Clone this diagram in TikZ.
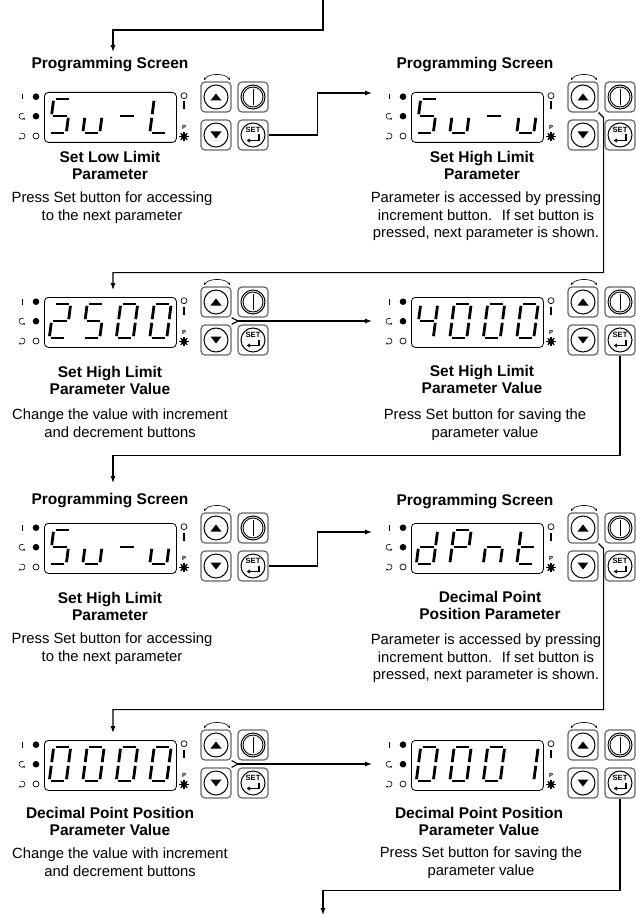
\documentclass[tikz,border=0pt]{standalone}
\usepackage{fontspec}
\setmainfont{Liberation Sans}
\usetikzlibrary{arrows.meta,positioning}
\tikzset{
  btn/.style={rectangle,draw=black!60,line width=1.2pt,rounded corners=4pt,minimum size=30pt,inner sep=0pt},
  disp/.style={rectangle,draw=black,line width=0.8pt,rounded corners=4pt,minimum width=132pt,minimum height=50pt,inner sep=0pt},
  seg/.style={line width=2.8pt},
  flow/.style={line width=1.1pt,-{Latex[length=7pt,width=5pt]}},
  panelhead/.style={font=\fontsize{15.5}{17.5}\selectfont\bfseries,align=center,anchor=north,inner sep=0pt},
  panelnote/.style={font=\fontsize{14.8}{17.3}\selectfont,align=center,anchor=north,inner sep=0pt},
}
% segments of one digit cell (17 x 34, y downwards)
\def\sga{(1.8,0)--(15.2,0)}
\def\sgb{(17,1.8)--(17,15.2)}
\def\sgc{(17,18.8)--(17,32.2)}
\def\sgd{(1.8,34)--(15.2,34)}
\def\sge{(0,18.8)--(0,32.2)}
\def\sgf{(0,1.8)--(0,15.2)}
\def\sgg{(1.8,17)--(15.2,17)}
\newcommand{\sevenseg}[3]{%
  \begin{scope}[shift={(#1,#2)},xslant=0.13]
    \foreach \s in {#3} {\draw[seg] \csname sg\s\endcsname;}
  \end{scope}}
% one controller front: name, display corner, four digits
\newcommand{\ctrlpanel}[7]{%
  \begin{scope}[shift={(#2,#3)}]
    \node (#1disp) [disp,anchor=north west] at (0,0) {};
    \sevenseg{9.7}{7}{#4}
    \sevenseg{43.2}{7}{#5}
    \sevenseg{76.7}{7}{#6}
    \sevenseg{110.2}{7}{#7}
    % lamps on the left
    \draw[line width=0.8pt] (-22,2) -- (-22,7.5);
    \draw[line width=0.6pt,-{Stealth[length=2pt,width=2.2pt]}] (-22,24.2) ++(60:3pt) arc[start angle=60,end angle=330,radius=3pt];
    \draw[line width=0.6pt,-{Stealth[length=2pt,width=2.2pt]}] (-22,44) ++(120:3pt) arc[start angle=120,end angle=-150,radius=3pt];
    \fill (-8,4.7) circle[radius=3.3pt];
    \fill (-8,24.2) circle[radius=3.3pt];
    \draw[line width=0.7pt] (-8,44) circle[radius=3pt];
    % lamps on the right
    \draw[line width=0.7pt] (140,3.7) circle[radius=3pt];
    \draw[line width=1.6pt] (140,9.5) -- (140,17.5);
    \node (#1prog) [font=\fontsize{6}{6}\selectfont\bfseries,inner sep=0pt] at (140,35.5) {P};
    \fill (140,44.5) circle[radius=3pt];
    \foreach \a in {0,45,...,315} \draw[line width=1.3pt] (140,44.5) -- ++(\a:4.6pt);
    % keys
    \node (#1up) [btn] at (172,5) {};
    \node (#1on) [btn] at (209,5) {};
    \node (#1dn) [btn] at (172,43) {};
    \node (#1set) [btn] at (209,43) {};
    \draw[line width=1pt] (#1up.center) circle[radius=12pt];
    \draw[line width=1pt] (#1dn.center) circle[radius=12pt];
    \draw[line width=1pt] (#1on.center) circle[radius=12pt];
    \draw[line width=1pt] (#1set.center) circle[radius=12pt];
    \fill (172,1.5) -- (177.5,8.5) -- (166.5,8.5) -- cycle;
    \fill (172,46.5) -- (177.5,39.5) -- (166.5,39.5) -- cycle;
    \draw[line width=0.9pt] (209,5) circle[radius=10pt];
    \draw[line width=0.9pt] (209,-3) -- (209,13);
    \node (#1settxt) [font=\fontsize{7.6}{8}\selectfont\bfseries,inner sep=0pt] at (209,38.3) {SET};
    \draw[line width=1.5pt,-{Latex[length=3.5pt,width=4.5pt]}] (215,42.5) -- (215,48.5) -- (202.5,48.5);
    \draw[line width=0.6pt,{Stealth[length=2.5pt,width=2.5pt]}-{Stealth[length=2.5pt,width=2.5pt]}] (160,-12) .. controls (165,-19) and (181,-19) .. (186,-12);
  \end{scope}}

\begin{document}
\begin{tikzpicture}[x=1pt,y=-1pt]
\useasboundingbox (0,0) rectangle (635,917);
\ctrlpanel{p1}{44}{92}{a,f,g,c,d}{c,d,e}{g}{f,e,d}
\ctrlpanel{p2}{411}{92}{a,f,g,c,d}{c,d,e}{g}{c,d,e}
\ctrlpanel{p3}{44}{297}{a,b,g,e,d}{a,f,g,c,d}{a,b,c,d,e,f}{a,b,c,d,e,f}
\ctrlpanel{p4}{411}{297}{f,g,b,c}{a,b,c,d,e,f}{a,b,c,d,e,f}{a,b,c,d,e,f}
\ctrlpanel{p5}{44}{523}{a,f,g,c,d}{c,d,e}{g}{c,d,e}
\ctrlpanel{p6}{411}{523}{b,c,d,e,g}{a,b,e,f,g}{c,e,g}{d,e,f,g}
\ctrlpanel{p7}{44}{740}{a,b,c,d,e,f}{a,b,c,d,e,f}{a,b,c,d,e,f}{a,b,c,d,e,f}
\ctrlpanel{p8}{411}{740}{a,b,c,d,e,f}{a,b,c,d,e,f}{a,b,c,d,e,f}{b,c}
%
\node (p1head) [panelhead] at (110,57) {Programming Screen};
\node (p1name) [panelhead] at (110,151) {Set Low Limit\\Parameter};
\node (p1note) [panelnote] at (112,192) {Press Set button for accessing\\to the next parameter};
\node (p2head) [panelhead] at (475,57) {Programming Screen};
\node (p2name) [panelhead] at (482,151) {Set High Limit\\Parameter};
\node (p2note) [panelnote] at (486,192) {Parameter is accessed by pressing\\increment button.~ If set button is\\pressed, next parameter is shown.};
\node (p3name) [panelhead] at (110,366) {Set High Limit\\Parameter Value};
\node (p3note) [panelnote] at (120,409) {Change the value with increment\\and decrement buttons};
\node (p4name) [panelhead] at (482,365) {Set High Limit\\Parameter Value};
\node (p4note) [panelnote] at (485,409) {Press Set button for saving the\\parameter value};
\node (p5head) [panelhead] at (110,493) {Programming Screen};
\node (p5name) [panelhead] at (110,592) {Set High Limit\\Parameter};
\node (p5note) [panelnote] at (112,633) {Press Set button for accessing\\to the next parameter};
\node (p6head) [panelhead] at (475,494) {Programming Screen};
\node (p6name) [panelhead] at (490,591) {Decimal Point\\Position Parameter};
\node (p6note) [panelnote] at (486,634) {Parameter is accessed by pressing\\increment button.~ If set button is\\pressed, next parameter is shown.};
\node (p7name) [panelhead] at (110,807) {Decimal Point Position\\Parameter Value};
\node (p7note) [panelnote] at (120,848) {Change the value with increment\\and decrement buttons};
\node (p8name) [panelhead] at (479,807) {Decimal Point Position\\Parameter Value};
\node (p8note) [panelnote] at (481,847) {Press Set button for saving the\\parameter value};
%
\coordinate (start) at (323,0);
\coordinate (p1in) at (113,52);
\coordinate (p2in) at (372,93);
\coordinate (p3in) at (113,290);
\coordinate (p3j) at (238,321);
\coordinate (p4in) at (372,321);
\coordinate (p5in) at (113,483);
\coordinate (p6in) at (372,532);
\coordinate (p7in) at (113,733);
\coordinate (p7j) at (238,764);
\coordinate (p8in) at (372,764);
\coordinate (finish) at (323,915);
\draw[flow] (start) -- ++(0,30) -| (p1in);
\draw[flow] (p1set.east) -- ++(49,0) |- (p2in);
\draw[flow] (p2up.south east) -- ++(5,5) -- ++(0,155) -| (p3in);
\draw[line width=1.1pt] (p3up.south east) -- (p3j) -- (p3dn.north east);
\draw[flow] (p3j) -- (p4in);
\draw[flow] (p4set.south) -- ++(0,100) -| (p5in);
\draw[flow] (p5set.east) -- ++(49,0) |- (p6in);
\draw[flow] (p6up.south east) -- ++(5,5) -- ++(0,161) -| (p7in);
\draw[line width=1.1pt] (p7up.south east) -- (p7j) -- (p7dn.north east);
\draw[flow] (p7j) -- (p8in);
\draw[flow] (p8set.south) -- ++(0,92) -| (finish);
\end{tikzpicture}
\end{document}
